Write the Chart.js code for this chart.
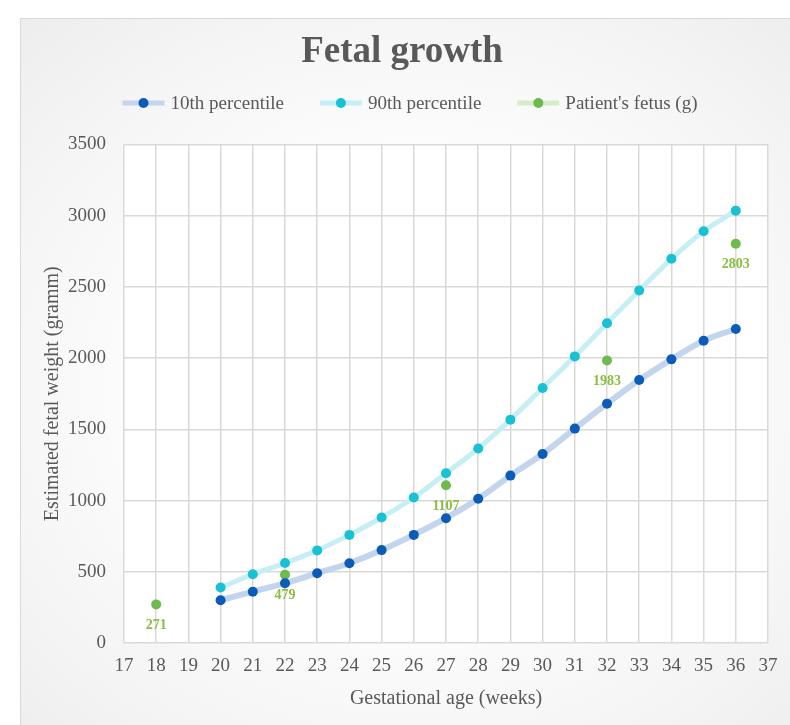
<!DOCTYPE html>
<html>
<head>
<meta charset="utf-8">
<script src="https://cdn.jsdelivr.net/npm/chart.js@4.4.1/dist/chart.umd.min.js"></script>
<style>
  html, body { margin: 0; padding: 0; background: #ffffff; }
  #wrap { position: relative; width: 790px; height: 725px; overflow: hidden; }
  #panel {
    position: absolute; left: 20px; top: 18px; width: 820px; height: 740px;
    border: 1px solid #d9d9d9;
    background: radial-gradient(ellipse at 48% 50%, #ffffff 35%, #f4f4f4 75%, #ececec 100%);
  }
  #chart { position: absolute; left: 0; top: 0; }
</style>
</head>
<body>
<div id="wrap">
  <div id="panel"></div>
  <canvas id="chart" width="790" height="725"></canvas>
</div>
<script>
'use strict';

// ── Data ──────────────────────────────────────────────────────────
const weeks = [20, 21, 22, 23, 24, 25, 26, 27, 28, 29, 30, 31, 32, 33, 34, 35, 36];
const p10 = [300, 360, 420, 490, 560, 652, 759, 876, 1012, 1175, 1327, 1505, 1680, 1846, 1991, 2122, 2204];
const p90 = [390, 482, 561, 650, 759, 881, 1021, 1192, 1365, 1568, 1790, 2012, 2245, 2475, 2697, 2890, 3035];
const patientWeeks = [18, 22, 27, 32, 36];
const patientWeights = [271, 479, 1107, 1983, 2803];

const seriesNames = ['10th percentile', '90th percentile', "Patient's fetus (g)"];
const xTicks = { min: 17, max: 37, step: 1 };
const yTicks = { min: 0, max: 3500, step: 500 };

const SERIF = "'Liberation Serif', 'Times New Roman', serif";
const TEXT_GREY = '#595959';
const GRID_GREY = '#d9d9d9';

const COLORS = {
  p10:     { dot: '#0b5cb8', line: '#c3d5ec' },
  p90:     { dot: '#19c1d4', line: '#c6eff4' },
  patient: { dot: '#6dba4e', line: '#d5ecc9', label: '#8abd43' },
};

function toPoints(xs, ys) {
  return xs.map((x, i) => ({ x, y: ys[i] }));
}

// ── Plugins ───────────────────────────────────────────────────────

// white plot area on top of the grey panel
const plotBackground = {
  id: 'plotBackground',
  beforeDraw(chart) {
    const { ctx, chartArea: a } = chart;
    ctx.save();
    ctx.fillStyle = '#ffffff';
    ctx.fillRect(a.left, a.top, a.right - a.left, a.bottom - a.top);
    ctx.restore();
  },
};

// value labels under the patient's points
const patientLabels = {
  id: 'patientLabels',
  afterDatasetsDraw(chart) {
    const { ctx } = chart;
    const meta = chart.getDatasetMeta(2);
    ctx.save();
    ctx.font = `bold 14px ${SERIF}`;
    ctx.fillStyle = COLORS.patient.label;
    ctx.textAlign = 'center';
    ctx.textBaseline = 'middle';
    meta.data.forEach((pt, i) => {
      ctx.fillText(String(patientWeights[i]), pt.x, pt.y + 21);
    });
    ctx.restore();
  },
};

// Excel-style legend: short thick line with a dot in the middle
const lineDotLegend = {
  id: 'lineDotLegend',
  afterDraw(chart) {
    const { ctx } = chart;
    const markerW = 42, gap = 6, spacing = 36, centerX = 410, y = 103;
    ctx.save();
    ctx.font = `19px ${SERIF}`;
    const items = chart.data.datasets.map(ds => ({
      ds, textW: ctx.measureText(ds.label).width,
    }));
    const total = items.reduce((s, it) => s + markerW + gap + it.textW, 0) + spacing * (items.length - 1);
    let x = centerX - total / 2;
    items.forEach(({ ds, textW }) => {
      ctx.strokeStyle = ds.legendLine;
      ctx.lineWidth = 5;
      ctx.beginPath();
      ctx.moveTo(x, y);
      ctx.lineTo(x + markerW, y);
      ctx.stroke();
      ctx.fillStyle = ds.pointBackgroundColor;
      ctx.beginPath();
      ctx.arc(x + markerW / 2, y, 5, 0, Math.PI * 2);
      ctx.fill();
      ctx.fillStyle = TEXT_GREY;
      ctx.textAlign = 'left';
      ctx.textBaseline = 'middle';
      ctx.fillText(ds.label, x + markerW + gap, y + 1);
      x += markerW + gap + textW + spacing;
    });
    ctx.restore();
  },
};

// ── Chart ─────────────────────────────────────────────────────────

new Chart(document.getElementById('chart').getContext('2d'), {
  type: 'line',
  data: {
    datasets: [
      {
        label: seriesNames[0],
        data: toPoints(weeks, p10),
        borderColor: COLORS.p10.line,
        legendLine: COLORS.p10.line,
        borderWidth: 6,
        pointBackgroundColor: COLORS.p10.dot,
        pointBorderWidth: 0,
        pointRadius: 5,
        cubicInterpolationMode: 'monotone',
      },
      {
        label: seriesNames[1],
        data: toPoints(weeks, p90),
        borderColor: COLORS.p90.line,
        legendLine: COLORS.p90.line,
        borderWidth: 5,
        pointBackgroundColor: COLORS.p90.dot,
        pointBorderWidth: 0,
        pointRadius: 5,
        cubicInterpolationMode: 'monotone',
      },
      {
        label: seriesNames[2],
        data: toPoints(patientWeeks, patientWeights),
        showLine: false,
        borderColor: COLORS.patient.dot,
        legendLine: COLORS.patient.line,
        pointBackgroundColor: COLORS.patient.dot,
        pointBorderWidth: 0,
        pointRadius: 5,
      },
    ],
  },
  options: {
    responsive: false,
    animation: false,
    layout: { padding: { left: 36, right: 22, top: 18, bottom: 10 } },
    plugins: {
      legend: { display: false },
      tooltip: { enabled: false },
      title: {
        display: true,
        text: 'Fetal growth',
        color: TEXT_GREY,
        font: { family: SERIF, size: 37, weight: 'bold' },
        padding: { top: 12, bottom: 70 },
      },
    },
    scales: {
      x: {
        type: 'linear',
        min: xTicks.min,
        max: xTicks.max,
        afterFit(scale) { scale.height = 72; },
        grid: { color: GRID_GREY, lineWidth: 1.5, drawTicks: false },
        border: { display: false },
        ticks: {
          stepSize: xTicks.step,
          padding: 12,
          color: TEXT_GREY,
          font: { family: SERIF, size: 19 },
          maxRotation: 0,
          autoSkip: false,
        },
        title: {
          display: true,
          text: 'Gestational age (weeks)',
          color: TEXT_GREY,
          font: { family: SERIF, size: 20 },
          padding: { top: 4, bottom: 4 },
        },
      },
      y: {
        min: yTicks.min,
        max: yTicks.max,
        afterFit(scale) { scale.width = 88; },
        grid: { color: GRID_GREY, lineWidth: 1.5, drawTicks: false },
        border: { display: false },
        ticks: {
          stepSize: yTicks.step,
          padding: 18,
          color: TEXT_GREY,
          font: { family: SERIF, size: 19 },
          callback: value => String(value),
        },
        title: {
          display: true,
          text: 'Estimated fetal weight (gramm)',
          color: TEXT_GREY,
          font: { family: SERIF, size: 20 },
          padding: { top: 5, bottom: 3 },
        },
      },
    },
  },
  plugins: [plotBackground, patientLabels, lineDotLegend],
});
</script>
</body>
</html>
